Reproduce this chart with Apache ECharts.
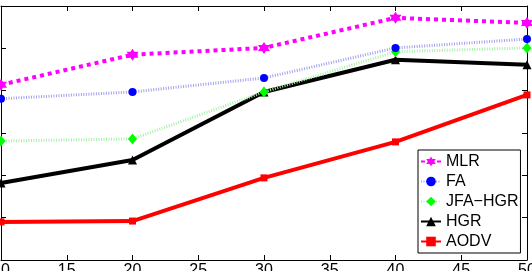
<!DOCTYPE html>
<html>
<head>
<meta charset="utf-8">
<script src="https://cdn.jsdelivr.net/npm/echarts@6/dist/echarts.min.js"></script>
<style>
  html, body { margin: 0; padding: 0; background: #fff; }
  #chart { width: 532px; height: 271px; }
</style>
</head>
<body>
<div id="chart"></div>
<script>
  // x values (node count) and series
  const xValues = [10, 20, 30, 40, 50];
  const mlr = [4.14, 4.85, 5.01, 5.72, 5.60];
  const fa = [3.81, 3.97, 4.30, 5.01, 5.22];
  const jfaHgr = [2.81, 2.86, 3.97, 4.92, 5.01];
  const hgr = [1.82, 2.36, 3.97, 4.73, 4.61];
  const aodv = [0.90, 0.92, 1.94, 2.79, 3.90];

  const hexagram = 'path://M0,-10 L2.887,-5 L8.66,-5 L5.77,0 L8.66,5 L2.887,5 L0,10 L-2.887,5 L-8.66,5 L-5.77,0 L-8.66,-5 L-2.887,-5 Z';

  function pairs(ys) {
    return xValues.map((x, i) => [x, ys[i]]);
  }

  const myChart = echarts.init(document.getElementById('chart'));

  const option = {
    animation: false,
    grid: { left: 1, right: 5, top: 6, bottom: 11, containLabel: false, outerBoundsMode: 'none' },
    legend: {
      orient: 'vertical',
      left: 418,
      top: 150,
      padding: [3.5, 2, 3.5, 2],
      itemGap: 4,
      itemWidth: 20,
      itemHeight: 12,
      backgroundColor: '#fff',
      borderColor: '#000',
      borderWidth: 1,
      textStyle: { fontFamily: 'Liberation Sans, Arial', fontSize: 16, color: '#000', lineHeight: 16 },
      data: ['MLR', 'FA', 'JFA−HGR', 'HGR', 'AODV']
    },
    xAxis: [
      {
        type: 'value', min: 10, max: 50, interval: 5,
        axisLine: { show: true, onZero: false, lineStyle: { color: '#000', width: 1 } },
        axisTick: { inside: true, length: 5, lineStyle: { color: '#000' } },
        axisLabel: { margin: 3, fontSize: 16, color: '#000', fontFamily: 'Liberation Sans, Arial', showMinLabel: true, showMaxLabel: true, hideOverlap: false },
        splitLine: { show: false }
      },
      {
        type: 'value', min: 10, max: 50, interval: 5, position: 'top',
        axisLine: { show: true, onZero: false, lineStyle: { color: '#000', width: 1 } },
        axisTick: { inside: true, length: 5, lineStyle: { color: '#000' } },
        axisLabel: { show: false },
        splitLine: { show: false }
      }
    ],
    yAxis: [
      {
        type: 'value', min: 0, max: 6, interval: 1,
        axisLine: { show: true, onZero: false, lineStyle: { color: '#000', width: 1 } },
        axisTick: { show: true, inside: true, length: 5, lineStyle: { color: '#000' } },
        axisLabel: { show: false },
        splitLine: { show: false }
      },
      {
        type: 'value', min: 0, max: 6, interval: 1, position: 'right',
        axisLine: { show: true, onZero: false, lineStyle: { color: '#000', width: 1 } },
        axisTick: { show: true, inside: true, length: 5, lineStyle: { color: '#000' } },
        axisLabel: { show: false },
        splitLine: { show: false }
      }
    ],
    series: [
      {
        name: 'AODV', type: 'line', data: pairs(aodv),
        symbol: 'rect', symbolSize: 7,
        itemStyle: { color: '#ff0000' },
        lineStyle: { color: '#ff0000', width: 4 }
      },
      {
        name: 'HGR', type: 'line', data: pairs(hgr),
        symbol: 'triangle', symbolSize: 9,
        itemStyle: { color: '#000' },
        lineStyle: { color: '#000', width: 4 }
      },
      {
        name: 'JFA−HGR', type: 'line', data: pairs(jfaHgr),
        symbol: 'diamond', symbolSize: [9, 11],
        itemStyle: { color: '#00ff00' },
        lineStyle: { color: '#a8f0a8', width: 3, type: [1, 1.5] }
      },
      {
        name: 'FA', type: 'line', data: pairs(fa),
        symbol: 'circle', symbolSize: 8,
        itemStyle: { color: '#0000ff' },
        lineStyle: { color: '#a0a0f0', width: 3, type: [1, 1.5] }
      },
      {
        name: 'MLR', type: 'line', data: pairs(mlr),
        symbol: hexagram, symbolSize: 12,
        itemStyle: { color: '#ff00ff' },
        lineStyle: { color: '#ff00ff', width: 4, type: [4, 4] }
      }
    ]
  };

  myChart.setOption(option);
</script>
</body>
</html>
